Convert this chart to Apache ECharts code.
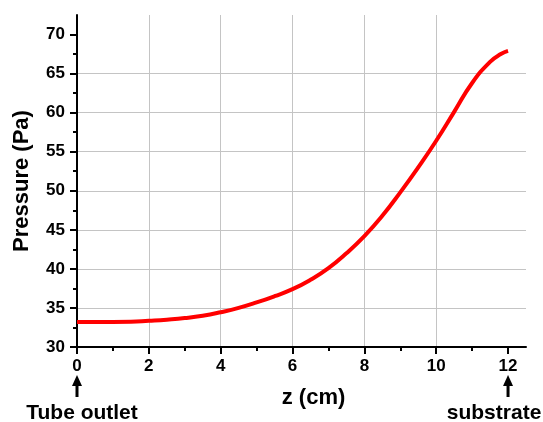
<!DOCTYPE html>
<html>
<head>
    <meta charset='utf-8'>
    <script src="https://cdn.jsdelivr.net/npm/echarts@6/dist/echarts.min.js"></script>
</head>
<body>
<style>
    html, body, #main {
        width: 100%;
        height: 100%;
        margin: 0;
        padding: 0;
        background: #fff;
    }
</style>
<div id="main"></div>
<script>
    // z position (cm) and pressure (Pa)
    var zValues = [0, 0.5, 1, 1.5, 2, 2.5, 3, 3.5, 4, 4.5, 5, 5.5, 6, 6.5,
        7, 7.5, 8, 8.5, 9, 9.5, 10, 10.5, 11, 11.5, 11.8, 12];
    var pressure = [33.2, 33.2, 33.2, 33.22, 33.35, 33.5, 33.7, 34.0, 34.45, 35.0,
        35.7, 36.5, 37.4, 38.6, 40.1, 42.0, 44.2, 46.8, 49.8, 53.0,
        56.4, 60.1, 63.8, 66.5, 67.5, 67.9];
    var xTicks = [0, 2, 4, 6, 8, 10, 12];
    var yTicks = [30, 35, 40, 45, 50, 55, 60, 65, 70];
    var endLabels = ['Tube outlet', 'substrate'];
    var endPositions = [0, 12];

    var font = 'Liberation Sans, Arial, sans-serif';
    var chart = echarts.init(document.getElementById('main'));

    var points = zValues.map(function (z, i) {
        return [z, pressure[i]];
    });

    chart.setOption({
        animation: false,
        grid: {left: 77, right: 17, top: 15, bottom: 75, containLabel: false, outerBoundsMode: 'none'},
        xAxis: {
            type: 'value',
            min: 0,
            max: 12.5,
            interval: 2,
            name: 'z (cm)',
            nameLocation: 'middle',
            nameGap: 40,
            nameTextStyle: {
                fontFamily: font, fontWeight: 'bold', fontSize: 22, color: '#000',
                padding: [0, 0, 0, 24]
            },
            axisLine: {lineStyle: {color: '#000', width: 2}},
            axisTick: {length: 7, lineStyle: {color: '#000', width: 2}, customValues: xTicks},
            minorTick: {show: true, splitNumber: 2, length: 4, lineStyle: {color: '#000', width: 2}},
            axisLabel: {
                margin: 11, fontFamily: font, fontWeight: 'bold', fontSize: 17, color: '#000',
                customValues: xTicks
            },
            splitLine: {show: true, showMaxLine: false, lineStyle: {color: '#c4c4c4', width: 1}}
        },
        yAxis: {
            type: 'value',
            min: 30,
            max: 72.5,
            interval: 5,
            name: 'Pressure (Pa)',
            nameLocation: 'middle',
            nameGap: 44,
            nameTextStyle: {fontFamily: font, fontWeight: 'bold', fontSize: 22, color: '#000'},
            axisLine: {show: true, lineStyle: {color: '#000', width: 2}},
            axisTick: {show: true, length: 7, lineStyle: {color: '#000', width: 2}, customValues: yTicks},
            minorTick: {show: true, splitNumber: 2, length: 4, lineStyle: {color: '#000', width: 2}},
            axisLabel: {
                margin: 12, fontFamily: font, fontWeight: 'bold', fontSize: 17, color: '#000',
                customValues: yTicks
            },
            splitLine: {show: true, showMaxLine: false, lineStyle: {color: '#c4c4c4', width: 1}}
        },
        series: [{
            type: 'line',
            data: points,
            smooth: 0.5,
            showSymbol: false,
            lineStyle: {color: '#ff0000', width: 4},
            z: 3
        }]
    });

    // arrows and labels under the two ends of the z axis
    var graphics = [];
    endPositions.forEach(function (z, i) {
        var px = chart.convertToPixel({gridIndex: 0}, [z, 30]);
        var x = px[0];
        graphics.push({
            type: 'line',
            shape: {x1: x, y1: 384, x2: x, y2: 397},
            style: {stroke: '#000', lineWidth: 3}
        });
        graphics.push({
            type: 'polygon',
            shape: {points: [[x, 375], [x - 5, 386], [x + 5, 386]]},
            style: {fill: '#000'}
        });
        graphics.push({
            type: 'text',
            x: i === 0 ? x + 5 : x - 14,
            y: 413,
            style: {
                text: endLabels[i],
                fontFamily: font, fontWeight: 'bold', fontSize: 21, fill: '#000',
                align: 'center', verticalAlign: 'middle'
            }
        });
    });
    chart.setOption({graphic: graphics});
</script>
</body>
</html>
